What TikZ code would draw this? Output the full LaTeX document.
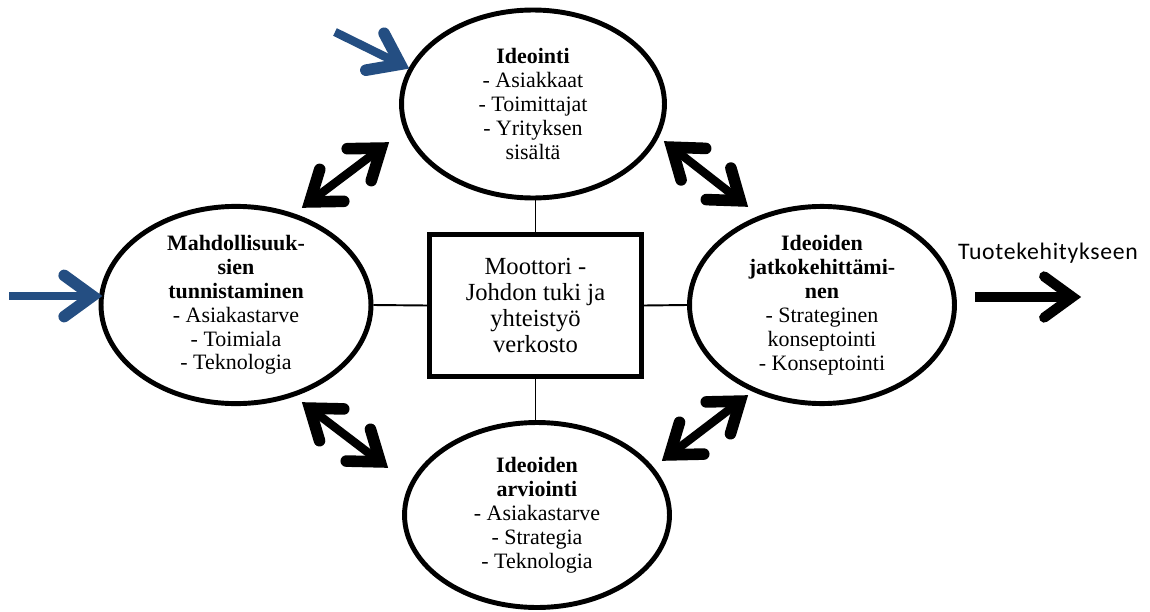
\documentclass[tikz,border=0pt]{standalone}
\usepackage{fontspec}
\setmainfont{Liberation Serif}
\newfontfamily\calib[LetterSpace=3]{Carlito}
\usetikzlibrary{shapes.geometric,calc}
\definecolor{navyb}{RGB}{36,78,130}
\tikzset{
  stage/.style={ellipse, draw, line width=2.8pt, align=center, inner sep=0pt,
    font=\fontsize{12.5}{13.6}\selectfont},
  motor/.style={rectangle, draw, line width=2.8pt, align=center, inner sep=0pt,
    font=\fontsize{14}{14.7}\selectfont, minimum width=4.25cm, minimum height=2.85cm},
  link/.style={line width=1.1pt},
  shaft/.style={line width=4.8pt},
  barb/.style={line width=6.6pt, line cap=round, line join=miter, miter limit=10},
  outtext/.style={font=\calib\fontsize{13.5}{15}\selectfont, inner sep=0pt},
}
\newcommand\dblarr[2]{%
  \coordinate (p1) at ($(#1)!0.17cm!(#2)$);
  \coordinate (p2) at ($(#2)!0.17cm!(#1)$);
  \draw[shaft] (p1) -- (p2);
  \draw[barb] ($(p2)!0.68cm!36:(p1)$) -- (p2) -- ($(p2)!0.68cm!-36:(p1)$);
  \draw[barb] ($(p1)!0.68cm!36:(p2)$) -- (p1) -- ($(p1)!0.68cm!-36:(p2)$);
}
\newcommand\onearr[3]{%
  \coordinate (q2) at ($(#2)!0.17cm!(#1)$);
  \draw[shaft,#3] (#1) -- (q2);
  \draw[barb,#3] ($(q2)!0.7cm!36:(#1)$) -- (q2) -- ($(q2)!0.7cm!-36:(#1)$);
}
\begin{document}
\begin{tikzpicture}[x=0.02cm,y=-0.02cm]
\useasboundingbox[fill=white] (0,0) rectangle (1150,612);

\node[stage, minimum width=5.26cm, minimum height=3.76cm] (top) at (533,104)
  {\textbf{Ideointi}\\- Asiakkaat\\- Toimittajat\\- Yrityksen\\sisältä};
\node[stage, minimum width=5.4cm, minimum height=3.72cm] (left) at (236,305)
  {\textbf{Mahdollisuuk-}\\\textbf{sien}\\\textbf{tunnistaminen}\\- Asiakastarve\\- Toimiala\\- Teknologia};
\node[stage, minimum width=5.3cm, minimum height=3.68cm] (right) at (822,305)
  {\textbf{Ideoiden}\\\textbf{jatkokehittämi-}\\\textbf{nen}\\- Strateginen\\konseptointi\\- Konseptointi};
\node[stage, minimum width=5.3cm, minimum height=3.7cm] (bot) at (537,515)
  {\textbf{Ideoiden}\\\textbf{arviointi}\\- Asiakastarve\\- Strategia\\- Teknologia};
\node[motor] (box) at (535.5,305.5)
  {Moottori -\\Johdon tuki ja\\yhteistyö\\verkosto};

\draw[link] (top.south -| box.north) -- (box.north);
\draw[link] (box.south) -- (box.south |- bot.north);
\draw[link] (left.east) -- (box.west);
\draw[link] (box.east) -- (right.west);

\coordinate (ULa) at (303,207); \coordinate (ULb) at (388,143);
\coordinate (URa) at (665,142); \coordinate (URb) at (747,206);
\coordinate (LLa) at (303,403); \coordinate (LLb) at (387,467);
\coordinate (LRa) at (663,460); \coordinate (LRb) at (747,396);
\dblarr{ULa}{ULb}
\dblarr{URa}{URb}
\dblarr{LLa}{LLb}
\dblarr{LRa}{LRb}

\coordinate (inTs) at (335,32); \coordinate (inTe) at (408,68);
\coordinate (inLs) at (9,296); \coordinate (inLe) at (101,296);
\onearr{inTs}{inTe}{navyb}
\onearr{inLs}{inLe}{navyb}

\node[outtext] (out) at (1048,253) {Tuotekehitykseen};
\coordinate (outS) at (975,297); \coordinate (outE) at (1081,297);
\onearr{outS}{outE}{black,line width=5.8pt}
\end{tikzpicture}
\end{document}
